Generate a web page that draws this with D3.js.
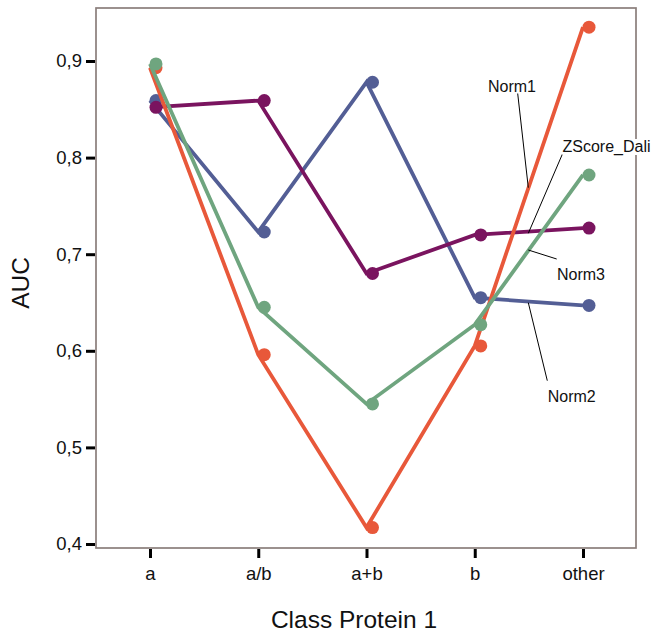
<!DOCTYPE html>
<html><head><meta charset="utf-8">
<script src="https://cdn.jsdelivr.net/npm/d3@7"></script>
<style>body{margin:0;background:#fff}svg{display:block}text{font-family:"Liberation Sans",Arial,sans-serif}</style>
</head><body>
<script>
const categories = ["a","a/b","a+b","b","other"];
const seriesNames = ["Norm2","ZScore_Dali","Norm1","Norm3"];
const norm1 = [0.893, 0.596, 0.417, 0.605, 0.935];
const norm2 = [0.859, 0.723, 0.878, 0.655, 0.647];
const norm3 = [0.897, 0.645, 0.545, 0.627, 0.782];
const zscoreDali = [0.852, 0.859, 0.680, 0.720, 0.727];
const yTicks = [0.4, 0.5, 0.6, 0.7, 0.8, 0.9];

const colors = {Norm1:"#e8583a", Norm2:"#535e95", Norm3:"#6fa57f", ZScore_Dali:"#7a145f"};
const dataMap = {Norm1:norm1, Norm2:norm2, Norm3:norm3, ZScore_Dali:zscoreDali};

const W=654,H=632;
const svg=d3.select("body").append("svg").attr("width",W).attr("height",H);
const L=96,R=636,T=8,B=548;
const x=d3.scalePoint().domain(categories).range([150,583]);
const y=d3.scaleLinear().domain([0.4,0.9]).range([544,61]);

// frame
svg.append("rect").attr("x",L).attr("y",T).attr("width",R-L).attr("height",B-T)
  .attr("fill","none").attr("stroke","#8a7e7b").attr("stroke-width",1.7);

// y axis
const ya=svg.append("g").attr("transform",`translate(${L-1},0)`)
  .call(d3.axisLeft(y).tickValues(yTicks).tickSize(9).tickPadding(4).tickFormat(d=>d3.format(".1f")(d).replace(".",",")));
ya.select(".domain").remove();
ya.selectAll("line").attr("stroke","#000").attr("stroke-width",3);
ya.selectAll("text").attr("font-size",18.5).attr("fill","#111");

const xa=svg.append("g").attr("transform",`translate(0,${B+1})`)
  .call(d3.axisBottom(x).tickSize(9).tickPadding(9));
xa.select(".domain").remove();
xa.selectAll("line").attr("stroke","#000").attr("stroke-width",3);
xa.selectAll("text").attr("font-size",18.5).attr("fill","#111");

svg.append("text").attr("x",354).attr("y",628).attr("text-anchor","middle").attr("font-size",24.5).attr("fill","#111").text("Class Protein 1");
svg.append("text").attr("transform","translate(29,283) rotate(-90)").attr("text-anchor","middle").attr("font-size",24.5).attr("fill","#111").text("AUC");

const line=d3.line().x((d,i)=>x(categories[i])).y(d=>y(d));
seriesNames.forEach(name=>{
  const vals=dataMap[name];
  const g=svg.append("g");
  g.append("path").attr("d",line(vals)).attr("fill","none").attr("stroke",colors[name]).attr("stroke-width",3.8).attr("stroke-linejoin","miter");
  g.append("g").attr("transform","translate(6,0)").selectAll("circle").data(vals).join("circle")
    .attr("cx",(d,i)=>x(categories[i])).attr("cy",d=>y(d)).attr("r",6.5).attr("fill",colors[name]);
});

// labels with leader lines
const labels=[
  {t:"Norm1", tx:512, ty:92, anchor:"middle", l:[[517.7,93.5],[528.3,187.7]]},
  {t:"ZScore_Dali", tx:562.5, ty:152, anchor:"start", l:[[562.3,154.3],[528.3,233.3]], bg:true},
  {t:"Norm3", tx:581, ty:280, anchor:"middle", l:[[528.3,250],[556.7,259]]},
  {t:"Norm2", tx:571.7, ty:402, anchor:"middle", l:[[528.3,302.7],[547.3,380.7]]}
];
labels.forEach(o=>{
  svg.append("line").attr("x1",o.l[0][0]).attr("y1",o.l[0][1]).attr("x2",o.l[1][0]).attr("y2",o.l[1][1]).attr("stroke","#000").attr("stroke-width",1);
  const t=svg.append("text").attr("x",o.tx).attr("y",o.ty).attr("text-anchor",o.anchor).attr("font-size",16).attr("fill","#111").text(o.t);
  if(o.bg){
    const bb=t.node().getBBox();
    svg.insert("rect",()=>t.node()).attr("x",bb.x).attr("y",bb.y+1).attr("width",bb.width).attr("height",bb.height-2).attr("fill","#fff");
  }
});
</script>
</body></html>
